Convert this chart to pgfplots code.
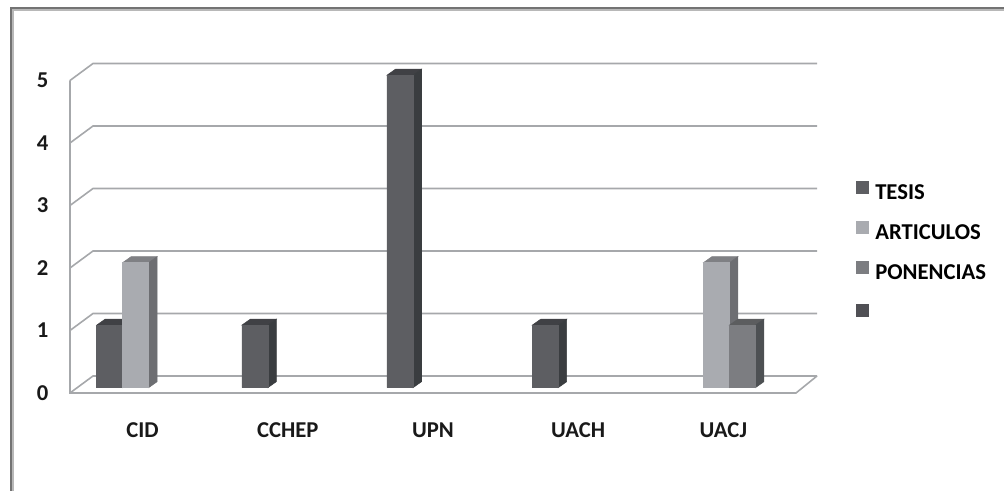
\documentclass[border=0pt]{standalone}
\usepackage{fontspec}
\setmainfont{Carlito}
\usepackage{pgfplots}
\pgfplotsset{compat=1.18}
\def\px{0.75pt}
\definecolor{wallc}{HTML}{A6A8AB}
\definecolor{frontA}{HTML}{5D5E62}\definecolor{sideA}{HTML}{3A3D40}\definecolor{topA}{HTML}{404145}
\definecolor{frontB}{HTML}{A9ABB0}\definecolor{sideB}{HTML}{6D6E72}\definecolor{topB}{HTML}{7F8084}
\definecolor{frontC}{HTML}{7C7D81}\definecolor{sideC}{HTML}{4D5053}\definecolor{topC}{HTML}{5C5D5F}
\definecolor{frontD}{HTML}{505055}
\pgfdeclareplotmark{emptymark}{}
% coordinates, bar shift (px), front, side, top, legend entry
\newcommand\barseries[6]{%
  \addplot[ybar, bar width=26*\px, bar shift=#2*\px, fill=#3, draw=none, yshift=5.3*\px] coordinates {#1};
  \addlegendentry{#6}
  \addplot[forget plot, only marks, scatter, mark=emptymark, yshift=5.3*\px,
    visualization depends on={rawy \as \barv},
    scatter/@pre marker code/.code={%
      \fill[#5] ({(#2-13)*\px},0) -- ++(8.5*\px,6*\px) -- ++(26*\px,0) -- ++(-8.5*\px,-6*\px) -- cycle;
      \fill[#4] ({(#2+13)*\px},0) -- ++(8.5*\px,6*\px) -- ++(0,{-\barv*62.5*\px}) -- ++(-8.5*\px,-6*\px) -- cycle;
      \fill[#3] ({(#2-13)*\px},0) rectangle ({(#2+13)*\px},{-\barv*62.5*\px});
      \begin{scope}},
    scatter/@post marker code/.code={\end{scope}}] coordinates {#1};
}
\begin{document}
\begin{tikzpicture}[x=1pt,y=1pt]
\path[use as bounding box] (-70*\px,-98*\px) rectangle (934*\px,393*\px);
\begin{axis}[
  at={(0,0)}, anchor=origin, scale only axis,
  width=726*\px, height=312.5*\px,
  xmin=0, xmax=5, ymin=0, ymax=5, clip=false,
  axis line style={draw=none}, tick style={draw=none},
  xtick={0.5,1.5,2.5,3.5,4.5},
  xticklabels={CID,CCHEP,UPN,UACH,UACJ},
  ytick={0,1,2,3,4,5},
  x tick label style={yshift=-25*\px},
  y tick label style={xshift=-17*\px},
  tick label style={font=\fontsize{17}{19}\selectfont\bfseries, color=black!90},
  /pgf/number format/assume math mode=true,
  legend style={at={(786*\px,212*\px)}, anchor=north west, draw=none, fill=none,
    font=\fontsize{17}{19}\selectfont\bfseries, row sep=19.7*\px, inner sep=0pt,
    nodes={inner sep=0pt}, /tikz/column 1/.style={column sep=6*\px}, legend cell align=left},
  legend image code/.code={\fill[#1] (0,-6.5*\px) rectangle (13*\px,6.5*\px);},
]
\foreach \k in {0,...,5}{
  \edef\temp{\noexpand\draw[wallc,line width=1.6*\px] (axis cs:0,\k) -- ++(23*\px,17*\px) -- ++(724*\px,0);}
  \temp
}
\draw[wallc,line width=1.6*\px] (axis cs:0,5) -- (axis cs:0,0) -- ++(726*\px,0) -- ++(21*\px,17*\px);
\barseries{(0.5,1) (1.5,1) (2.5,5) (3.5,1)}{-33}{frontA}{sideA}{topA}{TESIS}
\barseries{(0.5,2) (4.5,2)}{-7}{frontB}{sideB}{topB}{ARTICULOS}
\barseries{(4.5,1)}{19}{frontC}{sideC}{topC}{PONENCIAS}
\addlegendimage{fill=frontD,draw=none}
\addlegendentry{\strut}
\end{axis}
\draw[black!55,line width=1.2*\px] (-59*\px,-98*\px) |- (934*\px,385*\px);
\draw[black!28,line width=1.5*\px] (-57*\px,-98*\px) |- (934*\px,383*\px);
\end{tikzpicture}
\end{document}
